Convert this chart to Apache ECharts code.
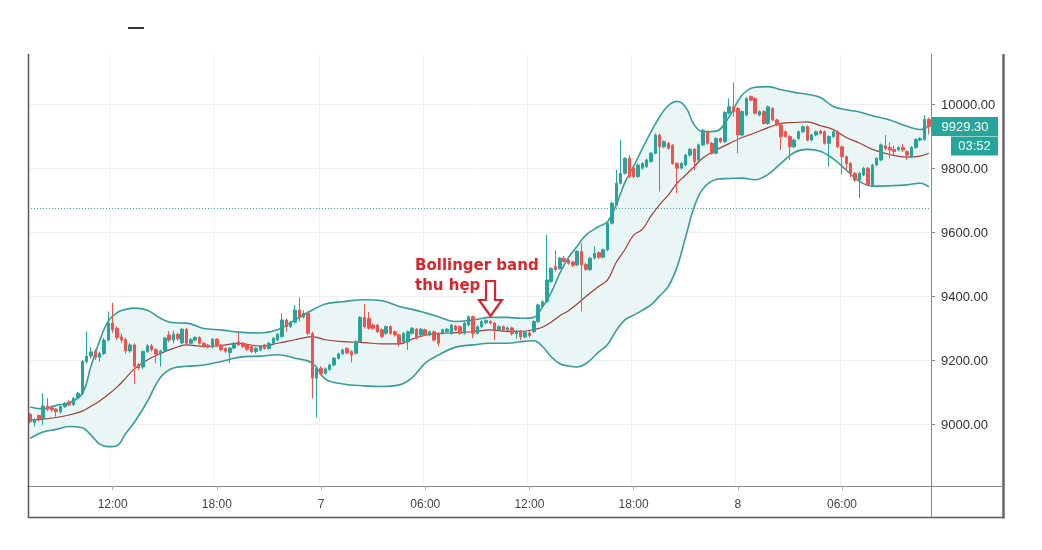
<!DOCTYPE html>
<html><head><meta charset="utf-8">
<script src="https://cdn.jsdelivr.net/npm/echarts@6/dist/echarts.min.js"></script>
<style>html,body{margin:0;padding:0;background:#fff}#c{width:1042px;height:550px}</style>
</head><body><div id="c"></div>
<script>
// 15-minute candles, first candle day 6 07:15
const startDay = 6, startMinute = 7 * 60 + 15, stepMinute = 15, candleCount = 208;
function pad(n) { return (n < 10 ? '0' : '') + n; }
const categories = [];
for (let i = 0; i < candleCount; i++) {
  const t = startMinute + i * stepMinute;
  const d = startDay + Math.floor(t / 1440), m = t % 1440;
  categories.push(d + ' ' + pad(Math.floor(m / 60)) + ':' + pad(m % 60));
}

const opens = [9030,9004,9026,9018,9056,9050,9046,9038,9054,9068,9060,9082,9096,9195,9212,9228,9208,9220,9262,9315,
9299,9272,9264,9228,9247,9185,9178,9226,9244,9232,9218,9228,9278,9262,9280,9253,9296,9252,9262,9270,
9252,9246,9240,9265,9246,9236,9223,9237,9257,9252,9247,9242,9226,9231,9247,9236,9252,9262,9273,9325,
9304,9318,9356,9334,9346,9283,9143,9174,9158,9170,9184,9205,9219,9236,9226,9221,9257,9333,9330,9309,
9309,9294,9283,9304,9288,9278,9257,9257,9283,9296,9278,9294,9278,9288,9283,9283,9288,9283,9306,9304,
9283,9309,9335,9283,9304,9316,9320,9315,9294,9304,9294,9300,9282,9290,9272,9284,9289,9320,9367,9382,
9445,9492,9486,9518,9512,9506,9497,9539,9498,9482,9518,9535,9521,9544,9627,9684,9752,9783,9830,9800,
9773,9799,9804,9820,9846,9903,9866,9877,9871,9814,9799,9809,9840,9858,9825,9872,9913,9877,9846,9892,
9882,9971,9991,9986,9903,9965,10023,10017,9965,9976,9939,9986,9950,9934,9913,9898,9866,9892,9913,9929,
9887,9903,9915,9913,9877,9898,9913,9866,9835,9814,9783,9762,9778,9799,9747,9809,9825,9869,9864,9858,
9856,9864,9851,9835,9864,9887,9889,9952];
const closes = [9007,9014,9016,9056,9046,9044,9038,9054,9064,9060,9080,9096,9195,9212,9225,9208,9220,9262,9315,9294,
9270,9262,9228,9247,9180,9175,9226,9244,9232,9218,9228,9268,9262,9280,9266,9296,9252,9264,9270,9252,
9242,9240,9265,9245,9232,9227,9237,9252,9247,9242,9233,9226,9236,9242,9236,9252,9268,9280,9325,9304,
9318,9356,9334,9346,9283,9143,9174,9158,9172,9184,9205,9219,9231,9222,9215,9257,9333,9304,9299,9299,
9288,9273,9304,9283,9278,9252,9283,9288,9299,9268,9296,9278,9288,9262,9252,9294,9296,9309,9294,9283,
9315,9335,9283,9304,9320,9323,9315,9294,9304,9294,9300,9282,9290,9272,9286,9276,9320,9372,9382,9450,
9486,9482,9518,9508,9502,9496,9539,9497,9483,9518,9533,9521,9544,9627,9690,9752,9783,9830,9773,9773,
9809,9814,9825,9846,9903,9866,9882,9861,9814,9799,9814,9840,9858,9820,9872,9918,9877,9846,9892,9882,
9973,9991,9976,9903,9976,10017,10012,9971,9976,9939,9991,9950,9934,9898,9898,9866,9887,9913,9929,9887,
9903,9913,9908,9877,9898,9913,9866,9835,9814,9783,9762,9783,9799,9747,9809,9830,9872,9861,9856,9851,
9864,9856,9840,9864,9889,9892,9952,9929.3];
const lows = [9002,8992,9008,8997,9040,9038,9023,9032,9050,9055,9056,9078,9090,9190,9205,9200,9195,9215,9258,9285,
9262,9252,9220,9222,9125,9168,9172,9222,9226,9190,9179,9224,9255,9252,9260,9250,9246,9248,9258,9248,
9238,9236,9236,9240,9228,9222,9190,9233,9243,9238,9228,9222,9220,9228,9232,9232,9248,9258,9270,9288,
9300,9314,9320,9330,9278,9080,9021,9152,9154,9166,9180,9201,9215,9218,9192,9217,9253,9298,9294,9294,
9284,9268,9278,9278,9273,9242,9253,9231,9279,9264,9274,9274,9274,9258,9242,9279,9284,9279,9290,9279,
9279,9305,9268,9279,9300,9312,9311,9262,9290,9288,9290,9276,9266,9262,9268,9270,9284,9316,9362,9378,
9441,9476,9482,9504,9498,9490,9493,9351,9478,9478,9514,9516,9517,9540,9623,9680,9748,9779,9768,9768,
9769,9795,9800,9816,9842,9726,9862,9857,9810,9721,9795,9805,9836,9793,9821,9868,9873,9842,9842,9878,
9878,9967,9960,9846,9899,9961,10008,9967,9961,9935,9935,9946,9930,9856,9894,9825,9862,9888,9909,9883,
9883,9899,9904,9873,9804,9894,9862,9780,9795,9770,9756,9705,9774,9743,9743,9805,9821,9855,9830,9840,
9852,9850,9825,9831,9860,9883,9885,9905];
const highs = [9035,9018,9030,9096,9080,9058,9050,9058,9068,9074,9084,9100,9200,9289,9240,9234,9226,9268,9351,9379,
9305,9282,9270,9252,9252,9190,9230,9250,9250,9236,9232,9272,9290,9292,9285,9300,9300,9268,9274,9274,
9256,9250,9268,9268,9250,9240,9240,9256,9285,9256,9250,9245,9240,9246,9250,9256,9272,9284,9346,9330,
9322,9372,9396,9355,9352,9288,9180,9180,9176,9188,9209,9223,9235,9240,9230,9261,9337,9375,9350,9314,
9313,9298,9308,9308,9292,9282,9287,9292,9303,9300,9300,9298,9292,9292,9287,9298,9300,9313,9310,9308,
9319,9339,9339,9308,9324,9327,9324,9319,9308,9308,9304,9304,9294,9294,9290,9290,9324,9376,9386,9590,
9490,9543,9522,9525,9516,9510,9543,9564,9503,9522,9555,9540,9548,9631,9694,9794,9887,9834,9840,9805,
9813,9818,9829,9850,9907,9907,9886,9881,9875,9818,9818,9844,9862,9862,9876,9922,9917,9881,9896,9896,
9977,10017,10067,9990,9980,10021,10027,10021,9980,9980,9995,9990,9954,9938,9917,9902,9891,9917,9933,9933,
9907,9917,9919,9917,9902,9917,9917,9870,9839,9818,9787,9787,9803,9803,9813,9834,9876,9903,9880,9870,
9868,9875,9855,9868,9893,9896,9965,9958];

// Bollinger band readings at sampled candle indices
const bandIdx = [0,3,6,9,12,14,16,18,20,22,24,27,30,33,36,40,44,48,53,57,61,65,68,72,77,81,85,88,91,94,98,102,106,110,
113,116,118,120,122,124,126,128,131,133,135,137,139,141,143,145,147,149,151,153,155,158,161,164,167,170,173,176,179,
182,185,188,191,194,198,202,205,207];
const bandUpper = [9053,9047,9058,9066,9095,9180,9260,9322,9348,9358,9362,9355,9330,9316,9315,9298,9294,9287,9284,9294,
9325,9356,9375,9382,9388,9385,9367,9358,9347,9335,9320,9325,9333,9333,
9330,9333,9365,9410,9471,9520,9555,9590,9617,9632,9685,9755,9805,9860,9913,9960,9995,10008,9990,9934,9913,9915,9960,10028,
10052,10054,10044,10036,10030,10020,9992,9982,9975,9963,9950,9930,9920,9931];
const bandMiddle = [9012,9015,9020,9028,9040,9055,9072,9092,9115,9143,9172,9200,9220,9236,9247,9242,9245,9252,9243,9252,
9263,9273,9263,9257,9254,9250,9250,9265,9277,9282,9285,9288,9294,9289,
9289,9295,9302,9318,9338,9354,9375,9398,9430,9450,9505,9545,9590,9608,9650,9685,9716,9752,9778,9805,9832,9856,9876,9895,
9910,9926,9939,9942,9944,9932,9920,9895,9878,9858,9842,9834,9837,9846];
const bandLower = [8955,8975,8983,8992,8988,8965,8937,8929,8932,8970,9005,9070,9145,9175,9180,9184,9195,9208,9212,9216,
9205,9190,9140,9125,9119,9117,9122,9145,9190,9215,9240,9247,9252,9252,
9257,9260,9242,9210,9188,9181,9178,9188,9225,9248,9292,9325,9340,9355,9372,9400,9430,9490,9585,9680,9735,9764,9767,9768,
9763,9780,9815,9848,9858,9852,9828,9793,9758,9743,9744,9747,9752,9741];

const yTicks = [9000, 9200, 9400, 9600, 9800, 10000];
const hLineValue = 9675;
const timerText = '03:52';

const UP = '#26a69a', DOWN = '#ef5350', BAND = '#3a9c9a', MID = '#9c3e3a', RED_TXT = '#d8262c';
const isTick = (i, v) => { const hm = v.split(' ')[1]; return hm === '00:00' || hm === '06:00' || hm === '12:00' || hm === '18:00'; };
const fmtX = v => { const p = v.split(' '); return p[1] === '00:00' ? p[0] : p[1]; };

const chart = echarts.init(document.getElementById('c'), null, { renderer: 'canvas' });
const candleData = opens.map((o, i) => [o, closes[i], lows[i], highs[i]]);

chart.setOption({
  animation: false,
  backgroundColor: '#ffffff',
  grid: { left: 28, right: 111, top: 54, bottom: 64, show: false },
  xAxis: {
    type: 'category', data: categories, boundaryGap: true,
    axisLine: { show: true, lineStyle: { color: '#8a8a8a', width: 1 } },
    axisTick: { show: true, alignWithLabel: true, interval: isTick, length: 4, lineStyle: { color: '#b0b0b0' } },
    axisLabel: { interval: isTick, formatter: fmtX, color: '#444', fontSize: 12, margin: 13, fontFamily: 'Liberation Sans, Arial, sans-serif' },
    splitLine: { show: true, interval: isTick, lineStyle: { color: '#eef1f4', width: 1 } }
  },
  yAxis: {
    type: 'value', position: 'right', min: 8806, max: 10156, splitNumber: 7,
    axisLine: { show: true, lineStyle: { color: '#8a8a8a', width: 1 } },
    axisTick: { show: true, length: 4, lineStyle: { color: '#8a8a8a' } },
    axisLabel: {
      showMinLabel: false, showMaxLabel: false, margin: 10,
      formatter: v => (yTicks.indexOf(v) >= 0 ? '{p|' + v.toFixed(2) + '}' : ''),
      rich: { p: { color: '#333', fontSize: 13, fontFamily: 'Liberation Sans, Arial, sans-serif', padding: [4, 0, 0, 0] } }
    },
    splitLine: { show: true, lineStyle: { color: '#eef1f4', width: 1 } }
  },
  series: [
    {
      name: 'lower', type: 'line', stack: 'bb', smooth: 0.4, symbol: 'none', z: 1,
      data: bandIdx.map((x, k) => [x, bandLower[k]]),
      lineStyle: { color: BAND, width: 1.6 }
    },
    {
      name: 'upper', type: 'line', stack: 'bb', smooth: 0.4, symbol: 'none', z: 1,
      data: bandIdx.map((x, k) => [x, bandUpper[k] - bandLower[k]]),
      lineStyle: { color: BAND, width: 1.6 },
      areaStyle: { color: '#eaf5f5', opacity: 1 }
    },
    {
      name: 'basis', type: 'line', smooth: 0.4, symbol: 'none', z: 2,
      data: bandIdx.map((x, k) => [x, bandMiddle[k]]),
      lineStyle: { color: MID, width: 1.2 }
    },
    {
      name: 'price', type: 'candlestick', z: 3, barWidth: 3,
      data: candleData,
      itemStyle: { color: UP, color0: DOWN, borderColor: UP, borderColor0: DOWN, borderWidth: 1 },
      markLine: {
        silent: true, symbol: ['none', 'none'], label: { show: false },
        lineStyle: { type: [1, 2], color: '#4a9ea0', width: 1 },
        data: [{ yAxis: hLineValue }]
      }
    }
  ]
});

const lastY = chart.convertToPixel({ yAxisIndex: 0 }, closes[closes.length - 1]);
const lastText = closes[closes.length - 1].toFixed(2);

chart.setOption({
  graphic: [
    { type: 'line', shape: { x1: 29.5, y1: 54.5, x2: 930.5, y2: 54.5 }, style: { stroke: '#ffffff', lineWidth: 1.5 }, z: 9 },
    { type: 'line', shape: { x1: 28.5, y1: 54, x2: 28.5, y2: 518 }, style: { stroke: '#5a5a5a', lineWidth: 1.5 }, z: 10 },
    { type: 'line', shape: { x1: 28, y1: 517.5, x2: 1004, y2: 517.5 }, style: { stroke: '#5a5a5a', lineWidth: 1.5 }, z: 10 },
    { type: 'line', shape: { x1: 1003.5, y1: 54, x2: 1003.5, y2: 518.5 }, style: { stroke: '#666', lineWidth: 2.5 }, z: 10 },
    { type: 'line', shape: { x1: 931, y1: 486.5, x2: 1003, y2: 486.5 }, style: { stroke: '#8a8a8a', lineWidth: 1 }, z: 10 },
    { type: 'line', shape: { x1: 931.5, y1: 486, x2: 931.5, y2: 517 }, style: { stroke: '#8a8a8a', lineWidth: 1 }, z: 10 },
    { type: 'line', shape: { x1: 128, y1: 28, x2: 144, y2: 28 }, style: { stroke: '#333', lineWidth: 2 }, z: 10 },
    { type: 'rect', shape: { x: 932, y: lastY - 9.5, width: 66, height: 19 }, style: { fill: UP }, z: 11 },
    { type: 'text', style: { x: 965, y: lastY + 0.5, text: lastText, fill: '#fff', font: '13px Liberation Sans, Arial, sans-serif', textAlign: 'center', textVerticalAlign: 'middle' }, z: 12 },
    { type: 'rect', shape: { x: 951, y: lastY + 10, width: 47, height: 19 }, style: { fill: UP }, z: 11 },
    { type: 'text', style: { x: 974.5, y: lastY + 20, text: timerText, fill: '#fff', font: '13px Liberation Sans, Arial, sans-serif', textAlign: 'center', textVerticalAlign: 'middle' }, z: 12 },
    { type: 'text', style: { x: 415, y: 266, text: 'Bollinger band', fill: RED_TXT, font: 'bold 15px DejaVu Sans, sans-serif', textAlign: 'left', textVerticalAlign: 'middle' }, z: 12 },
    { type: 'text', style: { x: 415, y: 286, text: 'thu hẹp', fill: RED_TXT, font: 'bold 15px DejaVu Sans, sans-serif', textAlign: 'left', textVerticalAlign: 'middle' }, z: 12 },
    { type: 'polygon', shape: { points: [[486, 281], [495, 281], [495, 300], [502, 300], [490.5, 316], [479, 300], [486, 300]] },
      style: { fill: '#ffffff', stroke: RED_TXT, lineWidth: 2.2, lineJoin: 'miter' }, z: 12 }
  ]
});
</script>
</body></html>
